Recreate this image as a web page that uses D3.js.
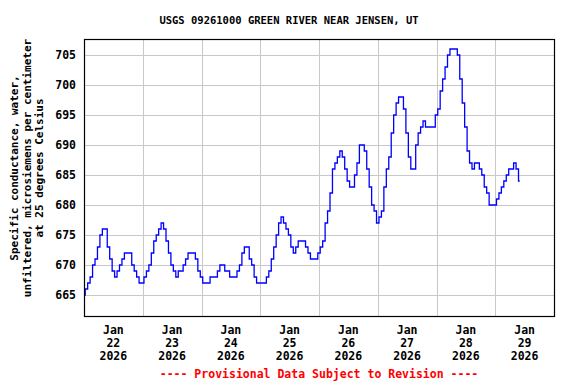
<!DOCTYPE html>
<html>
<head>
<meta charset="utf-8">
<script src="https://cdn.jsdelivr.net/npm/d3@7"></script>
<style>
    body { margin: 0; background: #fff; }
    svg { display: block; }
    text { font-family: "DejaVu Sans Mono", monospace; font-weight: bold; }
</style>
</head>
<body>
<div id="chart"></div>
<script>
// Hourly readings starting Jan 22 2026 00:00 (uS/cm)
const startTime = new Date(2026, 0, 22, 0, 0);
const conductance = [
    665, 666, 667, 668, 670, 671, 673, 675, 676, 676, 673, 671, 669, 668, 669, 670,
    671, 672, 672, 672, 670, 669, 668, 667, 667, 668, 669, 670, 672, 674, 675, 676,
    677, 676, 674, 672, 670, 669, 668, 669, 669, 670, 671, 672, 672, 672, 671, 669,
    668, 667, 667, 667, 668, 668, 668, 669, 670, 670, 669, 669, 668, 668, 668, 669,
    670, 672, 673, 673, 671, 670, 668, 667, 667, 667, 667, 668, 669, 671, 673, 675,
    677, 678, 677, 676, 675, 673, 672, 673, 674, 674, 674, 673, 672, 671, 671, 671,
    672, 673, 674, 677, 679, 682, 686, 687, 688, 689, 688, 686, 684, 683, 683, 685,
    687, 690, 690, 689, 686, 683, 680, 679, 677, 678, 679, 683, 686, 688, 692, 695,
    697, 698, 698, 696, 692, 688, 686, 686, 690, 692, 693, 694, 693, 693, 693, 693,
    695, 696, 699, 701, 703, 705, 706, 706, 706, 705, 701, 697, 693, 689, 687, 686,
    687, 687, 686, 685, 683, 682, 680, 680, 680, 681, 682, 683, 684, 685, 686, 686,
    687, 686, 684
];
const yTicks = [665, 670, 675, 680, 685, 690, 695, 700, 705];
const dayTicks = [22, 23, 24, 25, 26, 27, 28, 29];
const titleText = "USGS 09261000 GREEN RIVER NEAR JENSEN, UT";
const yLabelLines = [
    "Specific conductance, water,",
    "unfiltered, microsiemens per centimeter",
    "at 25 degrees Celsius"
];
const footerText = "---- Provisional Data Subject to Revision ----";

const data = conductance.map((v, i) => ({ t: d3.timeHour.offset(startTime, i), v }));

const W = 576, H = 384;
const plot = { left: 84, right: 554, top: 39, bottom: 316 };

const svg = d3.select("#chart").append("svg")
    .attr("width", W)
    .attr("height", H);

const x = d3.scaleTime()
    .domain([new Date(2026, 0, 22), new Date(2026, 0, 30)])
    .range([plot.left, plot.right]);

const y = d3.scaleLinear()
    .domain([661.5, 707.667])
    .range([plot.bottom, plot.top]);

// grid
const grid = svg.append("g").attr("stroke", "#c8c8c8").attr("stroke-width", 1);
grid.selectAll(".hg")
    .data(yTicks)
    .join("line")
    .attr("x1", plot.left).attr("x2", plot.right)
    .attr("y1", d => Math.round(y(d)) + 0.5)
    .attr("y2", d => Math.round(y(d)) + 0.5);
grid.selectAll(".vg")
    .data(d3.timeDay.range(new Date(2026, 0, 23), new Date(2026, 0, 30)))
    .join("line")
    .attr("x1", d => Math.round(x(d)) + 0.5)
    .attr("x2", d => Math.round(x(d)) + 0.5)
    .attr("y1", plot.top).attr("y2", plot.bottom);

// data line
const line = d3.line()
    .x(d => x(d.t))
    .y(d => y(d.v))
    .curve(d3.curveStep);

svg.append("path")
    .datum(data)
    .attr("fill", "none")
    .attr("stroke", "#0000ff")
    .attr("stroke-width", 1.3)
    .attr("d", line);

// frame
svg.append("rect")
    .attr("x", plot.left + 0.5)
    .attr("y", plot.top + 0.5)
    .attr("width", plot.right - plot.left)
    .attr("height", plot.bottom - plot.top)
    .attr("fill", "none")
    .attr("stroke", "#000")
    .attr("stroke-width", 1.2);

// y axis labels
svg.append("g")
    .selectAll("text")
    .data(yTicks)
    .join("text")
    .attr("x", 76)
    .attr("y", d => y(d))
    .attr("dy", "0.36em")
    .attr("text-anchor", "end")
    .attr("font-size", 11.5)
    .text(d => d);

// x axis labels, centred on noon of each day
const xl = svg.append("g")
    .selectAll("text")
    .data(dayTicks)
    .join("text")
    .attr("text-anchor", "middle")
    .attr("font-size", 11.5);
xl.each(function(d) {
    const cx = x(new Date(2026, 0, d, 12));
    const t = d3.select(this);
    t.append("tspan").attr("x", cx).attr("y", 334).text("Jan");
    t.append("tspan").attr("x", cx).attr("y", 347).text(d);
    t.append("tspan").attr("x", cx).attr("y", 360).text("2026");
});

// title
svg.append("text")
    .attr("x", 289)
    .attr("y", 24)
    .attr("text-anchor", "middle")
    .attr("font-size", 10.5)
    .text(titleText);

// y label
svg.append("text")
    .attr("transform", "translate(0,168) rotate(-90)")
    .attr("text-anchor", "middle")
    .attr("font-size", 11)
    .selectAll("tspan")
    .data(yLabelLines)
    .join("tspan")
    .attr("x", 0)
    .attr("y", (d, i) => 18 + i * 12.5)
    .text(d => d);

// footer
svg.append("text")
    .attr("x", (plot.left + plot.right) / 2)
    .attr("y", 378)
    .attr("text-anchor", "middle")
    .attr("font-size", 11.5)
    .attr("fill", "#ff0000")
    .text(footerText);
</script>
</body>
</html>
